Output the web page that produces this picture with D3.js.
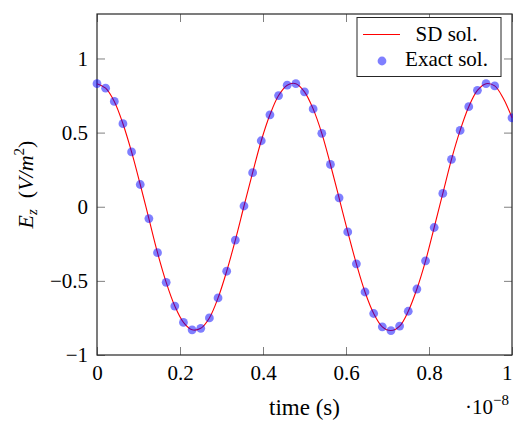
<!DOCTYPE html>
<html><head><meta charset="utf-8">
<script src="https://cdn.jsdelivr.net/npm/d3@7"></script>
<style>
body{margin:0;background:#fff;}
svg{display:block;}
text{font-family:"Liberation Serif","DejaVu Serif","Noto Serif","Tinos","FreeSerif","Times",serif;fill:#000;}
</style>
</head><body><div id="chart"></div>
<script>
// ---- data (time in units of 1e-8 s) ----
const timeExact = [0,0.0208,0.0417,0.0625,0.0833,0.1042,0.125,0.1458,0.1667,0.1875,
  0.2083,0.2292,0.25,0.2708,0.2917,0.3125,0.3333,0.3542,0.375,0.3958,
  0.4167,0.4375,0.4583,0.4792,0.5,0.5208,0.5417,0.5625,0.5833,0.6042,
  0.625,0.6458,0.6667,0.6875,0.7083,0.7292,0.75,0.7708,0.7917,0.8125,
  0.8333,0.8542,0.875,0.8958,0.9167,0.9375,0.9583,1.0];
const ezExact = [0.83,0.80,0.71,0.56,0.37,0.15,-0.08,-0.31,-0.51,-0.67,
  -0.78,-0.83,-0.82,-0.75,-0.615,-0.435,-0.225,0.005,0.23,0.445,
  0.62,0.75,0.82,0.83,0.775,0.66,0.495,0.285,0.06,-0.17,
  -0.385,-0.575,-0.72,-0.81,-0.835,-0.805,-0.705,-0.555,-0.365,-0.14,
  0.09,0.32,0.515,0.675,0.785,0.83,0.815,0.60];
const timeSD = [0,0.0208,0.0417,0.0625,0.0833,0.1042,0.125,0.1458,0.1667,0.1875,
  0.2083,0.2292,0.25,0.2708,0.2917,0.3125,0.3333,0.3542,0.375,0.3958,
  0.4167,0.4375,0.4583,0.4792,0.5,0.5208,0.5417,0.5625,0.5833,0.6042,
  0.625,0.6458,0.6667,0.6875,0.7083,0.7292,0.75,0.7708,0.7917,0.8125,
  0.8333,0.8542,0.875,0.8958,0.9167,0.9375,0.9583,0.9792,1.0];
const ezSD = [0.83,0.80,0.71,0.56,0.37,0.15,-0.08,-0.31,-0.51,-0.67,
  -0.78,-0.83,-0.82,-0.75,-0.615,-0.435,-0.225,0.005,0.23,0.445,
  0.62,0.75,0.82,0.83,0.775,0.66,0.495,0.285,0.06,-0.17,
  -0.385,-0.575,-0.72,-0.81,-0.835,-0.805,-0.705,-0.555,-0.365,-0.14,
  0.09,0.32,0.515,0.675,0.785,0.83,0.815,0.73,0.60];
const xTicks = [0,0.2,0.4,0.6,0.8,1];
const xTickLabels = ["0","0.2","0.4","0.6","0.8","1"];
const yTicks = [-1,-0.5,0,0.5,1];
const yTickLabels = ["\u22121","\u22120.5","0","0.5","1"];
const legendLabels = ["SD sol.","Exact sol."];

const FONT = '"Liberation Serif","DejaVu Serif","Noto Serif","Tinos","FreeSerif","Times",serif';
const W = 513, H = 421;
const L = 97, R = 512, T = 14, B = 355;
const svg = d3.select("#chart").append("svg").attr("width", W).attr("height", H);
const x = d3.scaleLinear().domain([0, 1]).range([L, R]);
const y = d3.scaleLinear().domain([-1, 1.3]).range([B, T]);

const FS = 21;
function styleAxis(g){
  g.attr("font-family", null);
  g.select(".domain").remove();
  g.selectAll(".tick line").attr("stroke", "#808080").attr("stroke-width", 1);
  g.selectAll(".tick text").attr("font-size", FS).style("font-family", FONT);
}
const ix = (v) => xTickLabels[xTicks.indexOf(v)];
const iy = (v) => yTickLabels[yTicks.indexOf(v)];

const gx = svg.append("g").attr("transform", `translate(0,${B})`)
  .call(d3.axisBottom(x).tickValues(xTicks).tickFormat(ix).tickSizeInner(-8).tickSizeOuter(0).tickPadding(10))
  .call(styleAxis);
gx.selectAll(".tick text").filter(d => d === 1).attr("text-anchor", "end").attr("x", 0);
svg.append("g").attr("transform", `translate(0,${T})`)
  .call(d3.axisTop(x).tickValues(xTicks).tickFormat("").tickSizeInner(-8).tickSizeOuter(0))
  .call(styleAxis);
svg.append("g").attr("transform", `translate(${L},0)`)
  .call(d3.axisLeft(y).tickValues(yTicks).tickFormat(iy).tickSizeInner(-8).tickSizeOuter(0).tickPadding(9))
  .call(styleAxis);
svg.append("g").attr("transform", `translate(${R},0)`)
  .call(d3.axisRight(y).tickValues(yTicks).tickFormat("").tickSizeInner(-8).tickSizeOuter(0))
  .call(styleAxis);

// frame
svg.append("rect").attr("x", L).attr("y", T).attr("width", R - L).attr("height", B - T)
  .attr("fill", "none").attr("stroke", "#262626").attr("stroke-width", 1.2);

// SD line
const line = d3.line().x((d, i) => x(timeSD[i])).y(d => y(d)).curve(d3.curveCatmullRom.alpha(0.5));
svg.append("path").datum(ezSD).attr("d", line)
  .attr("fill", "none").attr("stroke", "#ff0000").attr("stroke-width", 1.1);

// exact points
svg.append("g").selectAll("circle").data(ezExact).join("circle")
  .attr("cx", (d, i) => x(timeExact[i])).attr("cy", d => y(d)).attr("r", 4.4)
  .attr("fill", "#0000ff").attr("fill-opacity", 0.5);

// legend
const lg = svg.append("g");
lg.append("rect").attr("x", 357).attr("y", 17.5).attr("width", 144).attr("height", 59)
  .attr("fill", "#fff").attr("stroke", "#262626").attr("stroke-width", 1);
lg.append("line").attr("x1", 363).attr("x2", 400).attr("y1", 34.5).attr("y2", 34.5)
  .attr("stroke", "#ff0000").attr("stroke-width", 1.1);
lg.append("circle").attr("cx", 382).attr("cy", 61).attr("r", 4.4)
  .attr("fill", "#0000ff").attr("fill-opacity", 0.5);
lg.append("text").attr("x", 446.5).attr("y", 41).attr("text-anchor", "middle").attr("font-size", FS).style("font-family", FONT).text(legendLabels[0]);
lg.append("text").attr("x", 446.5).attr("y", 66).attr("text-anchor", "middle").attr("font-size", FS).style("font-family", FONT).text(legendLabels[1]);

// x label
svg.append("text").attr("x", (L + R) / 2).attr("y", 415).attr("text-anchor", "middle")
  .attr("font-size", 23).style("font-family", FONT).text("time (s)");
// multiplier
const mt = svg.append("text").attr("x", 509).attr("y", 414).attr("text-anchor", "end").attr("font-size", FS).style("font-family", FONT);
mt.append("tspan").text("\u00b710");
mt.append("tspan").attr("dy", -9).attr("font-size", 15).text("\u22128");

// y label
const yl = svg.append("text").attr("transform", `translate(33,${(T + B) / 2}) rotate(-90)`)
  .attr("text-anchor", "middle").attr("font-size", 22).style("font-family", FONT);
yl.append("tspan").attr("font-style", "italic").text("E");
yl.append("tspan").attr("font-style", "italic").attr("font-size", 15).attr("dy", 4).text("z");
yl.append("tspan").attr("dy", -4).text("\u2002(");
yl.append("tspan").attr("font-style", "italic").text("V/m");
yl.append("tspan").attr("font-size", 15).attr("dy", -9).text("2");
yl.append("tspan").attr("dy", 9).text(")");
</script>
</body></html>
